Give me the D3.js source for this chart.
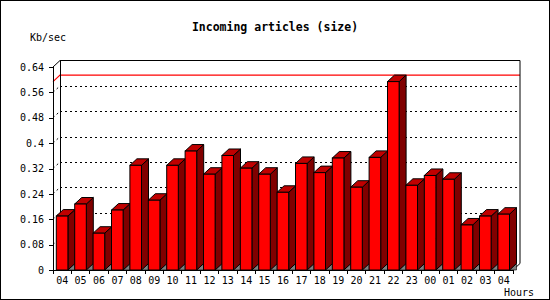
<!DOCTYPE html>
<html>
<head>
<meta charset="utf-8">
<script src="https://cdn.jsdelivr.net/npm/d3@7"></script>
<style>
  body { margin: 0; background: #fff; }
  text { font-family: "DejaVu Sans Mono", monospace; }
  .grid, .xt, .tick line, .domain, .hline { shape-rendering: crispEdges; }
</style>
</head>
<body>
<div id="chart-area"></div>
<script>
// data
var hours = ["04","05","06","07","08","09","10","11","12","13","14","15","16",
             "17","18","19","20","21","22","23","00","01","02","03","04"];
var kbsec = [0.170,0.208,0.116,0.189,0.330,0.220,0.330,0.375,0.302,0.361,0.321,0.302,0.245,
             0.336,0.307,0.353,0.261,0.355,0.594,0.267,0.298,0.286,0.142,0.170,0.176];
var yTicks = [0,0.08,0.16,0.24,0.32,0.4,0.48,0.56,0.64];

var W = 550, H = 300;
var pLeft = 53, pRight = 513, pTop = 67, pBottom = 270;
var dx = 7, dy = 6.5;   // 3d depth

var svg = d3.select("#chart-area").append("svg")
    .attr("width", W)
    .attr("height", H);

svg.append("rect")
    .attr("x", 0.5).attr("y", 0.5)
    .attr("width", W - 1).attr("height", H - 1)
    .attr("fill", "#fff").attr("stroke", "#000");

var x = d3.scaleBand()
    .domain(d3.range(hours.length))
    .range([pLeft, pRight]);
var y = d3.scaleLinear()
    .domain([0, 0.64])
    .range([pBottom, pTop]);

// dotted grid on back wall, plus the little diagonals
var grid = yTicks.filter(function (d) { return d > 0 && d < 0.64; });
svg.selectAll(".grid")
    .data(grid)
    .enter().append("line")
    .attr("class", "grid")
    .attr("x1", pLeft + dx).attr("x2", pRight + dx)
    .attr("y1", function (d) { return Math.round(y(d) - dy) + 0.5; })
    .attr("y2", function (d) { return Math.round(y(d) - dy) + 0.5; })
    .attr("stroke", "#000").attr("stroke-dasharray", "2,3");
svg.selectAll(".gdiag")
    .data(grid)
    .enter().append("line")
    .attr("class", "gdiag")
    .attr("x1", pLeft).attr("x2", pLeft + dx)
    .attr("y1", function (d) { return y(d); })
    .attr("y2", function (d) { return y(d) - dy; })
    .attr("stroke", "#000").attr("stroke-dasharray", "2,3");

// max line in red
var maxV = d3.max(kbsec);
svg.append("polyline")
    .attr("points", [[pLeft, y(maxV)], [pLeft + dx, y(maxV) - dy], [pRight + dx, y(maxV) - dy]].join(" "))
    .attr("fill", "none").attr("stroke", "#f00").attr("stroke-width", 1.2);

// frame of the 3d box
svg.append("polyline")
    .attr("points", [[pLeft, pTop], [pLeft + dx, pTop - dy], [pRight + dx, pTop - dy],
                     [pRight + dx, pBottom - dy], [pRight, pBottom]].join(" "))
    .attr("fill", "none").attr("stroke", "#000");
svg.append("line")
    .attr("class", "hline")
    .attr("x1", pLeft + dx).attr("x2", pLeft + dx)
    .attr("y1", pTop - dy).attr("y2", pBottom - dy)
    .attr("stroke", "#000");

// bars
var off = 3.3, bw = 11.6;
var bars = svg.selectAll(".bar")
    .data(kbsec)
    .enter().append("g")
    .attr("class", "bar");

bars.append("polygon")   // floor shadow
    .attr("points", function (d, i) {
        var x1 = x(i) + off + bw;
        return [[x1, pBottom], [x1 + dx, pBottom - dy], [x1 + dx, pBottom]].join(" ");
    })
    .attr("fill", "#808080").attr("stroke", "#000").attr("stroke-width", 0.6);
bars.append("polygon")   // side
    .attr("points", function (d, i) {
        var x1 = x(i) + off + bw;
        return [[x1, pBottom], [x1 + dx, pBottom - dy], [x1 + dx, y(d) - dy], [x1, y(d)]].join(" ");
    })
    .attr("fill", "#800000").attr("stroke", "#000");
bars.append("polygon")   // top
    .attr("points", function (d, i) {
        var x0 = x(i) + off, x1 = x0 + bw;
        return [[x0, y(d)], [x0 + dx, y(d) - dy], [x1 + dx, y(d) - dy], [x1, y(d)]].join(" ");
    })
    .attr("fill", "#c00000").attr("stroke", "#000");
bars.append("rect")      // front
    .attr("x", function (d, i) { return x(i) + off; })
    .attr("y", function (d) { return y(d); })
    .attr("width", bw)
    .attr("height", function (d) { return pBottom - y(d); })
    .attr("fill", "#f00").attr("stroke", "#000");

// axes
var yAxis = svg.append("g")
    .attr("transform", "translate(" + pLeft + ",0)")
    .call(d3.axisLeft(y).tickValues(yTicks).tickSize(4).tickPadding(5)
        .tickFormat(function (d) { return +d.toFixed(2); }));
yAxis.select(".domain").attr("d", "M0," + pBottom + "V" + pTop);
yAxis.selectAll("text").attr("font-size", 10).attr("font-family", "DejaVu Sans Mono").attr("fill", "#000");

var xAxis = svg.append("g")
    .attr("transform", "translate(0," + pBottom + ")");
xAxis.append("line")
    .attr("class", "hline")
    .attr("x1", pLeft).attr("x2", pRight)
    .attr("stroke", "#000");
xAxis.selectAll(".xt")
    .data(d3.range(hours.length + 1))
    .enter().append("line")
    .attr("class", "xt")
    .attr("x1", function (i) { return pLeft + i * x.bandwidth(); })
    .attr("x2", function (i) { return pLeft + i * x.bandwidth(); })
    .attr("y1", 0).attr("y2", 4)
    .attr("stroke", "#000");
xAxis.selectAll(".xl")
    .data(hours)
    .enter().append("text")
    .attr("class", "xl")
    .attr("x", function (d, i) { return x(i) + x.bandwidth() / 2; })
    .attr("y", 13.5)
    .attr("text-anchor", "middle")
    .attr("font-size", 10)
    .text(function (d) { return d; });

// titles
svg.append("text")
    .attr("x", 275).attr("y", 31)
    .attr("text-anchor", "middle")
    .attr("font-size", 11.5).attr("font-weight", "bold")
    .text("Incoming articles (size)");
svg.append("text")
    .attr("x", 30).attr("y", 41)
    .attr("font-size", 10)
    .text("Kb/sec");
svg.append("text")
    .attr("x", 534).attr("y", 296)
    .attr("text-anchor", "end")
    .attr("font-size", 10)
    .text("Hours");
</script>
</body>
</html>
